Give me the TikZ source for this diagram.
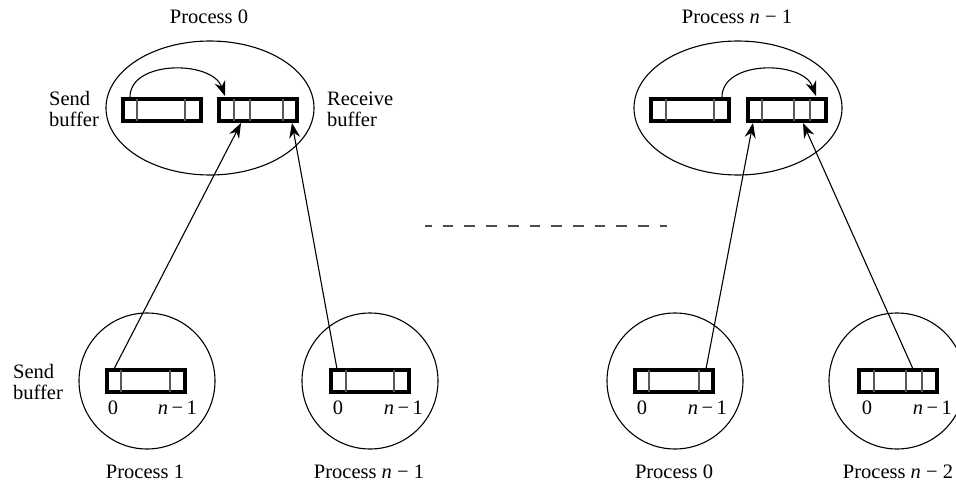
\documentclass[tikz,border=0pt]{standalone}
\usepackage{fontspec}
\setmainfont{Liberation Serif}
\usetikzlibrary{arrows.meta,shapes.geometric,calc}
\begin{document}
\begin{tikzpicture}[x=1pt,y=-1pt,
  every node/.style={font=\fontsize{20.5}{21}\selectfont, inner sep=0pt},
  buf/.style={draw, rectangle, line width=4pt, minimum width=78pt, minimum height=22pt, inner sep=0pt},
  cellline/.style={draw=black!65, line width=1.5pt},
  proc/.style={draw, ellipse, line width=1.1pt, minimum width=208pt, minimum height=134pt},
  circ/.style={draw, circle, line width=1.1pt, minimum size=136pt},
  conn/.style={line width=1.1pt, -{Stealth[length=15pt,width=11pt,inset=5pt]}},
  lbl/.style={anchor=base west, align=left},
  ttl/.style={anchor=base}]
\clip (0,0) rectangle (956,481);
\useasboundingbox (0,0) rectangle (956,481);

% ---- Top left: Process 0
\node[proc] (e0) at (210,108) {};
\node[ttl] (t0) at (209,24) {Process 0};
\node[buf] (s0) at (162,110) {};
\node[buf] (r0) at (258,110) {};
\foreach \x in {137,185} \draw[cellline] (\x,99) -- (\x,121);
\foreach \x in {234,250,283} \draw[cellline] (\x,99) -- (\x,121);
\node[lbl] (ls0) at (49,127) {Send\\buffer};
\node[lbl] (lr0) at (327,127) {Receive\\buffer};
\coordinate (a0) at (130,97);
\coordinate (a0e) at (225,96);
\draw[conn] (a0) .. controls (130,60) and (212,60) .. (a0e);

% ---- Top right: Process n-1
\node[proc] (e1) at (738,108) {};
\node[ttl] (t1) at (737,24) {Process \textit{n} − 1};
\node[buf] (s1) at (690,110) {};
\node[buf] (r1) at (787,110) {};
\foreach \x in {666,714} \draw[cellline] (\x,99) -- (\x,121);
\foreach \x in {762,794,810} \draw[cellline] (\x,99) -- (\x,121);
\coordinate (b0) at (722,97);
\coordinate (b0e) at (816,96);
\draw[conn] (b0) .. controls (722,60) and (803,60) .. (b0e);

% ---- dashed separator
\coordinate (d0) at (425,226);
\coordinate (d1) at (667,226);
\draw[black!70, line width=2.5pt, dash pattern=on 10.7pt off 11pt, dash phase=4pt] (d0) -- (d1);

% ---- Bottom circles
\node[circ] (c1) at (147,381) {};
\node[circ] (c2) at (370,381) {};
\node[circ] (c3) at (675,381) {};
\node[circ] (c4) at (897,381) {};

\node[buf] (q1) at (146,381) {};
\node[buf] (q2) at (370,381) {};
\node[buf] (q3) at (674,381) {};
\node[buf] (q4) at (898,381) {};
\foreach \x in {121,170,346,394,649,699,874,906,922} \draw[cellline] (\x,370) -- (\x,392);

\node[lbl] (ls1) at (13,399) {Send\\buffer};

\node[ttl] (z1) at (113,414) {0};
\node[ttl, anchor=base east] (m1) at (197,414) {\textit{n}\,−\,1};
\node[ttl] (z2) at (338,414) {0};
\node[ttl, anchor=base east] (m2) at (423,414) {\textit{n}\,−\,1};
\node[ttl] (z3) at (642,414) {0};
\node[ttl, anchor=base east] (m3) at (727,414) {\textit{n}\,−\,1};
\node[ttl] (z4) at (867,414) {0};
\node[ttl, anchor=base east] (m4) at (952,414) {\textit{n}\,−\,1};

\node[ttl] (p1) at (145,478) {Process 1};
\node[ttl] (p2) at (369,478) {Process \textit{n} − 1};
\node[ttl] (p3) at (674,478) {Process 0};
\node[ttl] (p4) at (898,478) {Process \textit{n} − 2};

% ---- connectors
\coordinate (f1) at (114,369);
\coordinate (f2) at (337,369);
\coordinate (f3) at (706,369);
\coordinate (f4) at (913,369);
\coordinate (g1) at (241,123);
\coordinate (g2) at (292,123);
\coordinate (g3) at (753,123);
\coordinate (g4) at (803,123);
\draw[conn] (f1) -- (g1);
\draw[conn] (f2) -- (g2);
\draw[conn] (f3) -- (g3);
\draw[conn] (f4) -- (g4);
\end{tikzpicture}
\end{document}
